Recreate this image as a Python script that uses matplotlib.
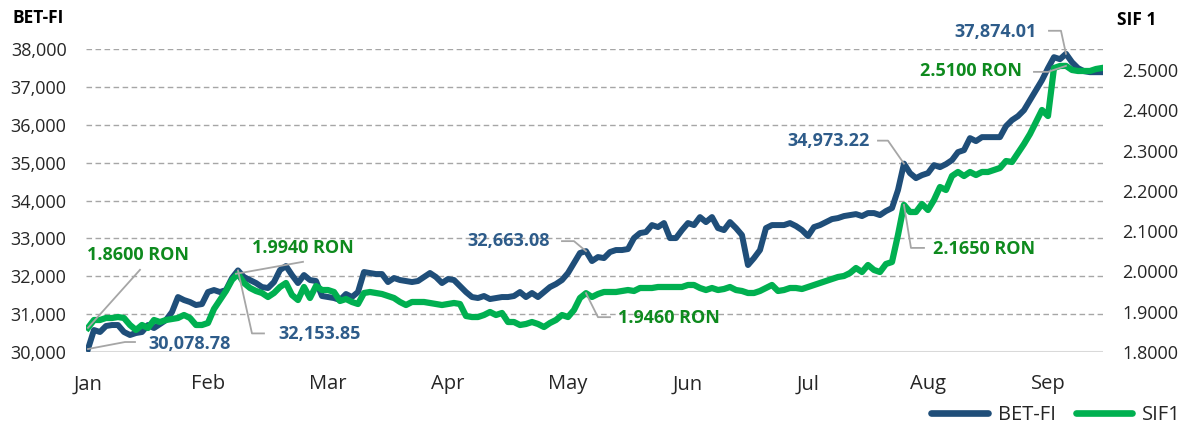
import matplotlib
matplotlib.use("Agg")
import matplotlib.pyplot as plt
from matplotlib.lines import Line2D
from matplotlib.transforms import Affine2D

plt.rcParams["font.family"] = ["Open Sans", "DejaVu Sans"]

W, H = 1191, 423
BLUE = "#1F4E79"
GREEN = "#00B050"
BLUE_TXT = "#2E5C8A"
GREEN_TXT = "#0E8A1E"
LEADER = "#A6A6A6"
TICK_TXT = "#262626"

MONTHS = ["Jan", "Feb", "Mar", "Apr", "May", "Jun", "Jul", "Aug", "Sep"]
PTS_PER_MONTH = 20

BET_FI = [
    30078.78, 30580, 30528, 30686, 30712, 30712, 30528, 30449, 30501, 30528,
    30712, 30633, 30739, 30844, 31055, 31451, 31372, 31319, 31240, 31266,
    31583, 31636, 31583, 31636, 31953, 32153.85, 31979, 31900, 31821, 31715,
    31689, 31847, 32164, 32269, 32032, 31821, 32032, 31900, 31874, 31478,
    31451, 31425, 31372, 31530, 31451, 31583, 32111, 32085, 32058, 32058,
    31847, 31953, 31900, 31874, 31847, 31874, 31979, 32085, 31979, 31821,
    31926, 31900, 31742, 31583, 31451, 31425, 31478, 31398, 31425, 31451,
    31451, 31478, 31583, 31451, 31557, 31451, 31583, 31715, 31795, 31900,
    32085, 32349, 32613, 32663.08, 32401, 32507, 32480, 32639, 32692, 32692,
    32718, 33008, 33140, 33167, 33351, 33298, 33404, 33008, 33008, 33219,
    33404, 33351, 33562, 33430, 33562, 33272, 33219, 33430, 33272, 33087,
    32296, 32480, 32692, 33272, 33351, 33351, 33351, 33404, 33325, 33219,
    33061, 33298, 33351, 33430, 33509, 33536, 33589, 33615, 33641, 33589,
    33668, 33668, 33615, 33721, 33800, 34275, 34973.22, 34723, 34591, 34670,
    34723, 34934, 34881, 34960, 35066, 35277, 35330, 35647, 35568, 35673,
    35673, 35673, 35673, 35963, 36122, 36227, 36385, 36649, 36913, 37177,
    37494, 37784, 37731, 37874.01, 37652, 37494, 37415, 37388, 37388, 37388,
]

SIF1 = [
    1.8600, 1.8794, 1.8794, 1.8844, 1.8844, 1.8868, 1.8844, 1.8670, 1.8546, 1.8670,
    1.8596, 1.8794, 1.8744, 1.8794, 1.8819, 1.8844, 1.8918, 1.8844, 1.8670, 1.8670,
    1.8720, 1.9067, 1.9290, 1.9514, 1.9787, 1.9940, 1.9712, 1.9588, 1.9514, 1.9464,
    1.9365, 1.9464, 1.9613, 1.9712, 1.9414, 1.9290, 1.9613, 1.9340, 1.9638, 1.9538,
    1.9538, 1.9489, 1.9266, 1.9315, 1.9241, 1.9191, 1.9464, 1.9489, 1.9464, 1.9439,
    1.9390, 1.9340, 1.9241, 1.9166, 1.9241, 1.9241, 1.9241, 1.9216, 1.9191, 1.9166,
    1.9191, 1.9216, 1.9191, 1.8893, 1.8868, 1.8868, 1.8918, 1.8993, 1.8918, 1.8968,
    1.8744, 1.8744, 1.8670, 1.8695, 1.8744, 1.8695, 1.8620, 1.8720, 1.8794, 1.8918,
    1.8868, 1.9042, 1.9340, 1.9460, 1.9365, 1.9439, 1.9489, 1.9489, 1.9489, 1.9514,
    1.9538, 1.9514, 1.9588, 1.9588, 1.9588, 1.9613, 1.9613, 1.9613, 1.9613, 1.9613,
    1.9663, 1.9663, 1.9588, 1.9538, 1.9588, 1.9538, 1.9563, 1.9613, 1.9538, 1.9514,
    1.9464, 1.9464, 1.9514, 1.9588, 1.9663, 1.9514, 1.9538, 1.9588, 1.9588, 1.9563,
    1.9613, 1.9663, 1.9712, 1.9762, 1.9811, 1.9861, 1.9886, 1.9960, 2.0084, 1.9985,
    2.0159, 2.0035, 1.9985, 2.0184, 2.0233, 2.0903, 2.1650, 2.1474, 2.1474, 2.1672,
    2.1524, 2.1772, 2.2094, 2.2020, 2.2367, 2.2467, 2.2367, 2.2467, 2.2392, 2.2467,
    2.2467, 2.2516, 2.2566, 2.2739, 2.2715, 2.2938, 2.3161, 2.3409, 2.3707, 2.4005,
    2.3856, 2.5047, 2.5097, 2.5100, 2.4998, 2.4973, 2.4973, 2.4973, 2.5022, 2.5047,
]

LEFT_TICKS = [30000, 31000, 32000, 33000, 34000, 35000, 36000, 37000, 38000]
RIGHT_TICKS = [1.8, 1.9, 2.0, 2.1, 2.2, 2.3, 2.4, 2.5]

# (series, index, label, text offset px, leader path px, text ha)  offsets: +x right, +y up
LABELS = [
    ("bet", 0, "30,078.78", (60, 5), [(0, 0), (37, 7), (47, 7)], "left"),
    ("sif", 0, "1.8600 RON", (-1, 73), [(0, 0), (52, 58)], "left"),
    ("sif", 25, "1.9940 RON", (14, 26), [(-2, 0), (65, 12)], "left"),
    ("bet", 25, "32,153.85", (40, -64), [(0, 0), (14, -63), (26, -63)], "left"),
    ("bet", 83, "32,663.08", (-36, 10), [(0, 0), (-12, 10), (-24, 10)], "right"),
    ("sif", 83, "1.9460 RON", (32, -25), [(0, 0), (12, -24), (24, -24)], "left"),
    ("bet", 136, "34,973.22", (-34, 23), [(0, 0), (-16, 23), (-26, 23)], "right"),
    ("sif", 136, "2.1650 RON", (29, -44), [(0, 0), (7, -43), (20, -43)], "left"),
    ("bet", 163, "37,874.01", (-29, 22), [(0, 0), (-5, 23), (-17, 23)], "right"),
    ("sif", 163, "2.5100 RON", (-44, -5), [(0, 0), (-18, -6), (-32, -6)], "right"),
]


def main() -> None:
    fig = plt.figure(figsize=(W / 100, H / 100), dpi=100)
    ax = fig.add_axes([86 / W, (H - 352) / H, (1103 - 86) / W, 303 / H])
    ax2 = ax.twinx()

    x = list(range(len(BET_FI)))
    ax.plot(x, BET_FI, color=BLUE, lw=4.3, solid_joinstyle="round", label="BET-FI", zorder=3)
    ax2.plot(x, SIF1, color=GREEN, lw=4.5, solid_joinstyle="round", label="SIF1", zorder=3)

    ax.set_xlim(-0.33, 169.17)
    ax.set_ylim(30000, 38000)
    ax2.set_ylim(1.8, 1.8 + 303 / 403)

    for a in (ax, ax2):
        for s in a.spines.values():
            s.set_visible(False)
        a.tick_params(length=0, labelsize=13, colors=TICK_TXT)

    ax.set_yticks(LEFT_TICKS, labels=[f"{v:,.0f}" for v in LEFT_TICKS])
    ax.tick_params(axis="y", pad=14)
    ax2.set_yticks(RIGHT_TICKS, labels=[f"{v:.4f}" for v in RIGHT_TICKS])
    ax2.tick_params(axis="y", pad=14)
    ax.set_xticks([i * PTS_PER_MONTH for i in range(len(MONTHS))], labels=MONTHS)
    ax.tick_params(axis="x", pad=16, labelsize=14.5)

    for v in LEFT_TICKS[1:]:
        ax.axhline(v, color="#A6A6A6", lw=1.0, ls=(0, (4, 2.5)), zorder=1)
    ax.axhline(30000, color="#D9D9D9", lw=2.2, zorder=1)

    fig.text(12 / W, 1 - 18 / H, "BET-FI", fontsize=12.5, fontweight="bold", color="#000000", va="center")
    fig.text(1117 / W, 1 - 20 / H, "SIF 1", fontsize=12.5, fontweight="bold", color="#000000", va="center")

    for series, idx, text, (tdx, tdy), path, ha in LABELS:
        if series == "bet":
            target, val, color = ax, BET_FI[idx], BLUE_TXT
        else:
            target, val, color = ax2, SIF1[idx], GREEN_TXT
        x0, y0 = target.transData.transform((idx, val))
        fig.add_artist(Line2D([p[0] for p in path], [p[1] for p in path], color=LEADER, lw=1.3,
                              transform=Affine2D().translate(x0, y0), zorder=5))
        target.annotate(text, xy=(idx, val), xytext=(tdx, tdy), textcoords="offset pixels",
                        ha=ha, va="center", fontsize=13, fontweight="bold", color=color, zorder=6)

    handles = [Line2D([], [], color=BLUE, lw=4.8, solid_capstyle="round"),
               Line2D([], [], color=GREEN, lw=4.8, solid_capstyle="round")]
    fig.legend(handles, ["BET-FI", "SIF1"], loc="center right", bbox_to_anchor=(1181 / W, 8 / H),
               ncol=2, frameon=False, fontsize=14.5, handlelength=2.8, handletextpad=0.5,
               columnspacing=1.0, borderaxespad=0, borderpad=0, labelcolor=TICK_TXT)

    fig.savefig("out.png", dpi=100)


if __name__ == "__main__":
    main()
